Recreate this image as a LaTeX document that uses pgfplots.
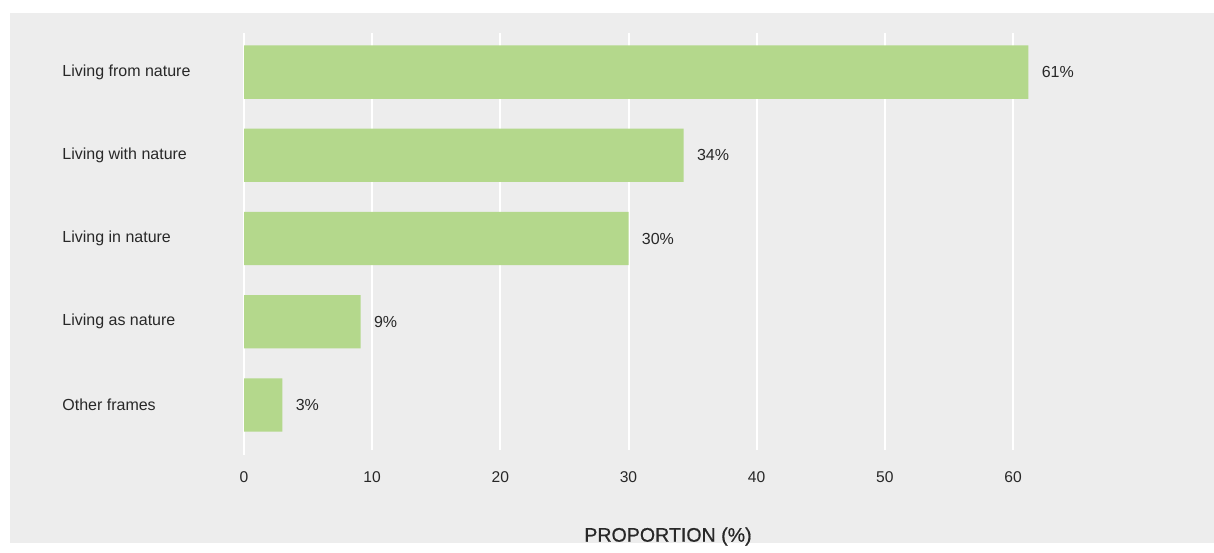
\documentclass[border=0pt]{standalone}
\usepackage{pgfplots}
\pgfplotsset{compat=1.18}
\usepackage{fontspec}
\setmainfont{Liberation Sans}
\newfontfamily\medfont[FakeBold=0.7]{Liberation Sans}
\definecolor{bg}{RGB}{237,237,237}
\definecolor{barc}{RGB}{180,216,140}
\definecolor{txt}{RGB}{40,40,40}
\begin{document}
\begin{tikzpicture}
\fill[white] (0pt,0pt) rectangle (607pt,271.5pt);
\fill[bg] (5pt,0pt) rectangle (607pt,265pt);
\begin{axis}[
  at={(122pt,46.5pt)}, anchor=south west,
  scale only axis, width=384.5pt, height=208.5pt,
  xmin=0, xmax=60, ymin=-0.54, ymax=4.47,
  xbar, bar width=0.64, bar shift=0pt,
  axis line style={draw=none},
  major tick length=0pt,
  xtick={0,10,...,60},
  xmajorgrids, grid style={white, line width=1pt},
  ytick={0,1,2,3,4},
  yticklabels={Other frames, Living as nature, Living in nature, Living with nature, Living from nature},
  yticklabel style={anchor=west, inner sep=0pt, xshift=-91pt, font=\fontsize{8}{9}\selectfont, text=txt},
  xticklabel style={anchor=center, inner sep=0pt, yshift=-13.5pt, font=\fontsize{7.8}{9}\selectfont, text=txt},
  /pgf/number format/assume math mode=true,
  clip=false,
  nodes near coords={\pgfmathprintnumber[fixed,precision=0]{\pgfplotspointmeta}\%},
  nodes near coords style={anchor=west, inner sep=0pt, xshift=6.5pt, font=\fontsize{8}{9}\selectfont, text=txt, /pgf/number format/assume math mode=true},
]
\draw[white, line width=1pt] (axis cs:0,-0.54) -- ++(0pt,-2.5pt);
\addplot[fill=barc, draw=none] coordinates {(3.0,0) (9.1,1) (30.0,2) (34.3,3) (61.2,4)};
\end{axis}
\node[text=txt, font=\medfont\fontsize{9.8}{11}\selectfont] at (334pt,3.2pt) {PROPORTION (\%)};
\end{tikzpicture}
\end{document}
